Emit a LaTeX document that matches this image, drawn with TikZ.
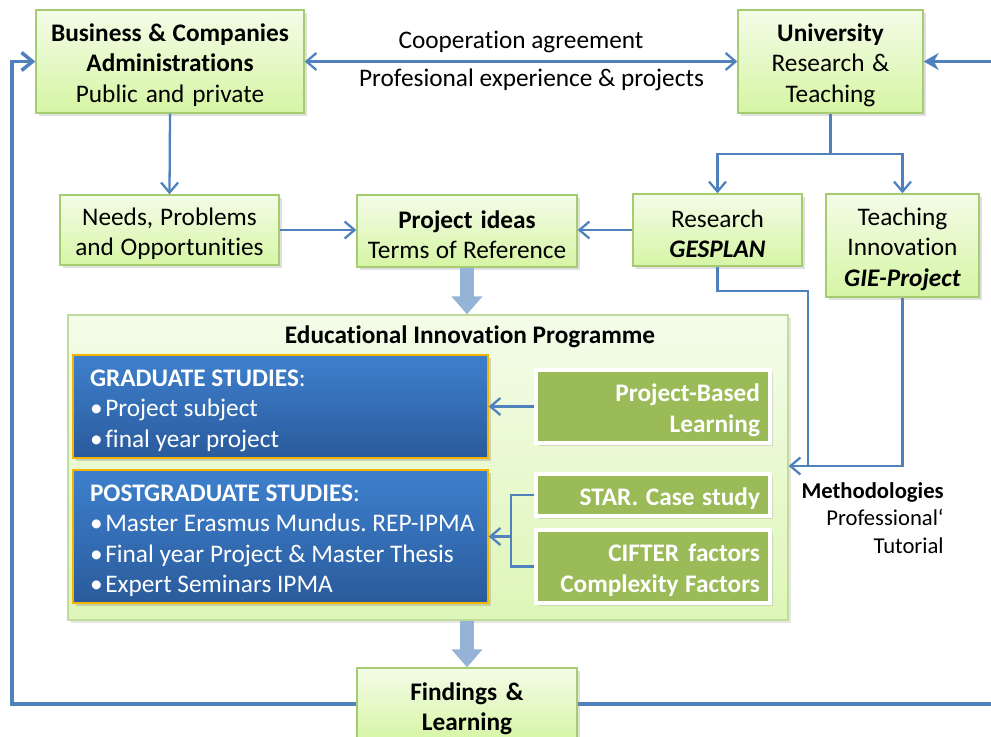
\documentclass[tikz,border=0pt]{standalone}
\usepackage{fontspec}
\setmainfont{Carlito}[Ligatures=NoCommon]
\usepackage{tikz}
\usetikzlibrary{arrows.meta, shadows}
\definecolor{linkblue}{HTML}{4F81BD}
\definecolor{fatblue}{HTML}{95B3D7}
\definecolor{boxtop}{HTML}{F4FCE8}
\definecolor{boxbot}{HTML}{D6F5A4}
\definecolor{boxedge}{HTML}{A6CC72}
\definecolor{progtop}{HTML}{F4FCE9}
\definecolor{progbot}{HTML}{DEF6B8}
\definecolor{studtop}{HTML}{3E80CD}
\definecolor{studbot}{HTML}{2A5B9C}
\definecolor{studedge}{HTML}{F2B400}
\definecolor{olivegreen}{HTML}{9BBB59}
\newcommand{\diagfont}{\fontsize{14.4pt}{17.3pt}\selectfont\frenchspacing}
\newcommand{\itm}{\textbullet\hspace{1.5pt}}
\newcommand{\topstrut}{\spaceskip=0pt\xspaceskip=0pt\relax\rule{0pt}{14.2pt}}
\tikzstyle{greenbox} = [rectangle, draw=boxedge, line width=0.8pt, top color=boxtop, bottom color=boxbot, align=center, inner sep=0pt, execute at begin node=\topstrut, drop shadow={shadow xshift=1.5pt, shadow yshift=-1.5pt, opacity=0.25}]
\tikzstyle{progbox} = [rectangle, draw=boxedge!70, line width=0.8pt, top color=progtop, bottom color=progbot, minimum width=14.4cm, minimum height=6.1cm, drop shadow={shadow xshift=1.5pt, shadow yshift=-1.5pt, opacity=0.2}]
\tikzstyle{studies} = [rectangle, draw=studedge, line width=0.8pt, top color=studtop, bottom color=studbot, text=white, align=left, inner xsep=0.34cm, text width=7.62cm, execute at begin node=\topstrut, drop shadow={shadow xshift=1.5pt, shadow yshift=-1.5pt, opacity=0.3}]
\tikzstyle{method} = [rectangle, draw=white, line width=2.2pt, fill=olivegreen, text=white, font=\diagfont\bfseries, align=right, inner xsep=0.2cm, text width=4.28cm, execute at begin node=\topstrut, drop shadow={shadow xshift=1.5pt, shadow yshift=-1.5pt, opacity=0.25}]
\tikzstyle{link} = [draw=linkblue, line width=1.3pt]
\tikzstyle{arrow} = [link, -{Straight Barb[length=2mm, width=3.4mm]}]
\tikzstyle{loopline} = [draw=linkblue, line width=2pt]
\tikzstyle{fatarrow} = [draw=fatblue, line width=0.28cm, -{Triangle[length=0.36cm, width=0.6cm]}]

\begin{document}
\begin{tikzpicture}[x=0.02cm, y=-0.02cm, font=\diagfont]
\useasboundingbox (0,0) rectangle (991,737);
%top row
\node[greenbox, text width=5.36cm, minimum height=2.06cm](biz) at (170,61.5){\textbf{Business \& Companies}\\\textbf{Administrations}\\Public and private};
\node[greenbox, text width=3.7cm, minimum height=2.06cm](uni) at (830.5,61.5){\textbf{University}\\Research \&\\Teaching};
%second row
\node[greenbox, text width=4.38cm, minimum height=1.4cm](needs) at (169.5,230){Needs, Problems\\and Opportunities};
\node[greenbox, text width=4.4cm, minimum height=1.44cm](ideas) at (467,231){\textbf{Project ideas}\\Terms of Reference};
\node[greenbox, text width=3.38cm, minimum height=1.44cm](research) at (717.5,230){Research\\\textbf{\textit{GESPLAN}}};
\node[greenbox, text width=3.06cm, minimum height=2.06cm](teach) at (902.5,245.5){Teaching\\Innovation\\\textbf{\textit{GIE-Project}}};
%programme
\node[progbox](prog) at (428,467.5){};
\node[font=\diagfont\bfseries](progtitle) at (470,336.5){Educational Innovation Programme};
\node[studies, minimum height=2.06cm](grad) at (280.5,406.5){\textbf{GRADUATE STUDIES}:\\\itm Project subject\\\itm final year project};
\node[studies, minimum height=2.66cm](postgrad) at (280.5,536.5){\textbf{POSTGRADUATE STUDIES}:\\\mbox{\itm Master Erasmus Mundus. REP-IPMA}\\\mbox{\itm Final year Project \& Master Thesis}\\\itm Expert Seminars IPMA};
\node[method, minimum height=1.46cm](pbl) at (653,406.5){Project-Based\\Learning};
\node[method, minimum height=0.84cm](star) at (653,495){STAR. Case study};
\node[method, minimum height=1.46cm](cifter) at (653,566.5){CIFTER factors\\Complexity Factors};
\node[anchor=north east, align=right, inner sep=0pt, font=\fontsize{12.9pt}{15.7pt}\selectfont](methlabel) at (944,482){\textbf{Methodologies}\\Professional‘\\Tutorial};
%connectors
\coordinate (loopne) at (1000,61.5);
\coordinate (loopsw) at (12,704);
\coordinate (methjoin) at (808,466);
\draw [loopline, {Stealth[length=3mm, width=3.4mm]}-{Straight Barb[length=2.2mm, width=3.6mm]}] (uni.east) -- (loopne) |- (loopsw) |- (biz.west);
\draw [link, {Straight Barb[length=2mm, width=3.4mm]}-{Straight Barb[length=2mm, width=3.4mm]}] (biz.east) -- node [above=1pt] {Cooperation agreement} node [below=0pt, xshift=6pt] {Profesional experience \& projects} (uni.west);
\draw [arrow] (biz.south) -- (needs.north);
\draw [arrow] (uni.south) -- ++(0,40) coordinate (split) -| (research.north);
\draw [arrow] (split) -| (teach.north);
\draw [arrow] (needs.east) -- (needs.east -| ideas.west);
\draw [arrow] (research.west) -- (research.west -| ideas.east);
\draw [link] (research.south) -- ++(0,24) -| (methjoin);
\draw [arrow] (teach.south) |- (methjoin) -- (methjoin -| prog.east);
\draw [arrow] (pbl.west) -- (pbl.west -| grad.east);
\draw [link] (star.west) -- ++(-23,0) coordinate (brk) |- (cifter.west);
\draw [arrow] (brk |- postgrad.east) -- (postgrad.east);
\draw [fatarrow] (ideas.south) -- (ideas.south |- prog.north);
%findings
\node[greenbox, text width=4.4cm, minimum height=1.48cm](findings) at (467,705){\textbf{Findings \&}\\\textbf{Learning}};
\draw [fatarrow] (findings.north |- prog.south) -- (findings.north);
\end{tikzpicture}
\end{document}
